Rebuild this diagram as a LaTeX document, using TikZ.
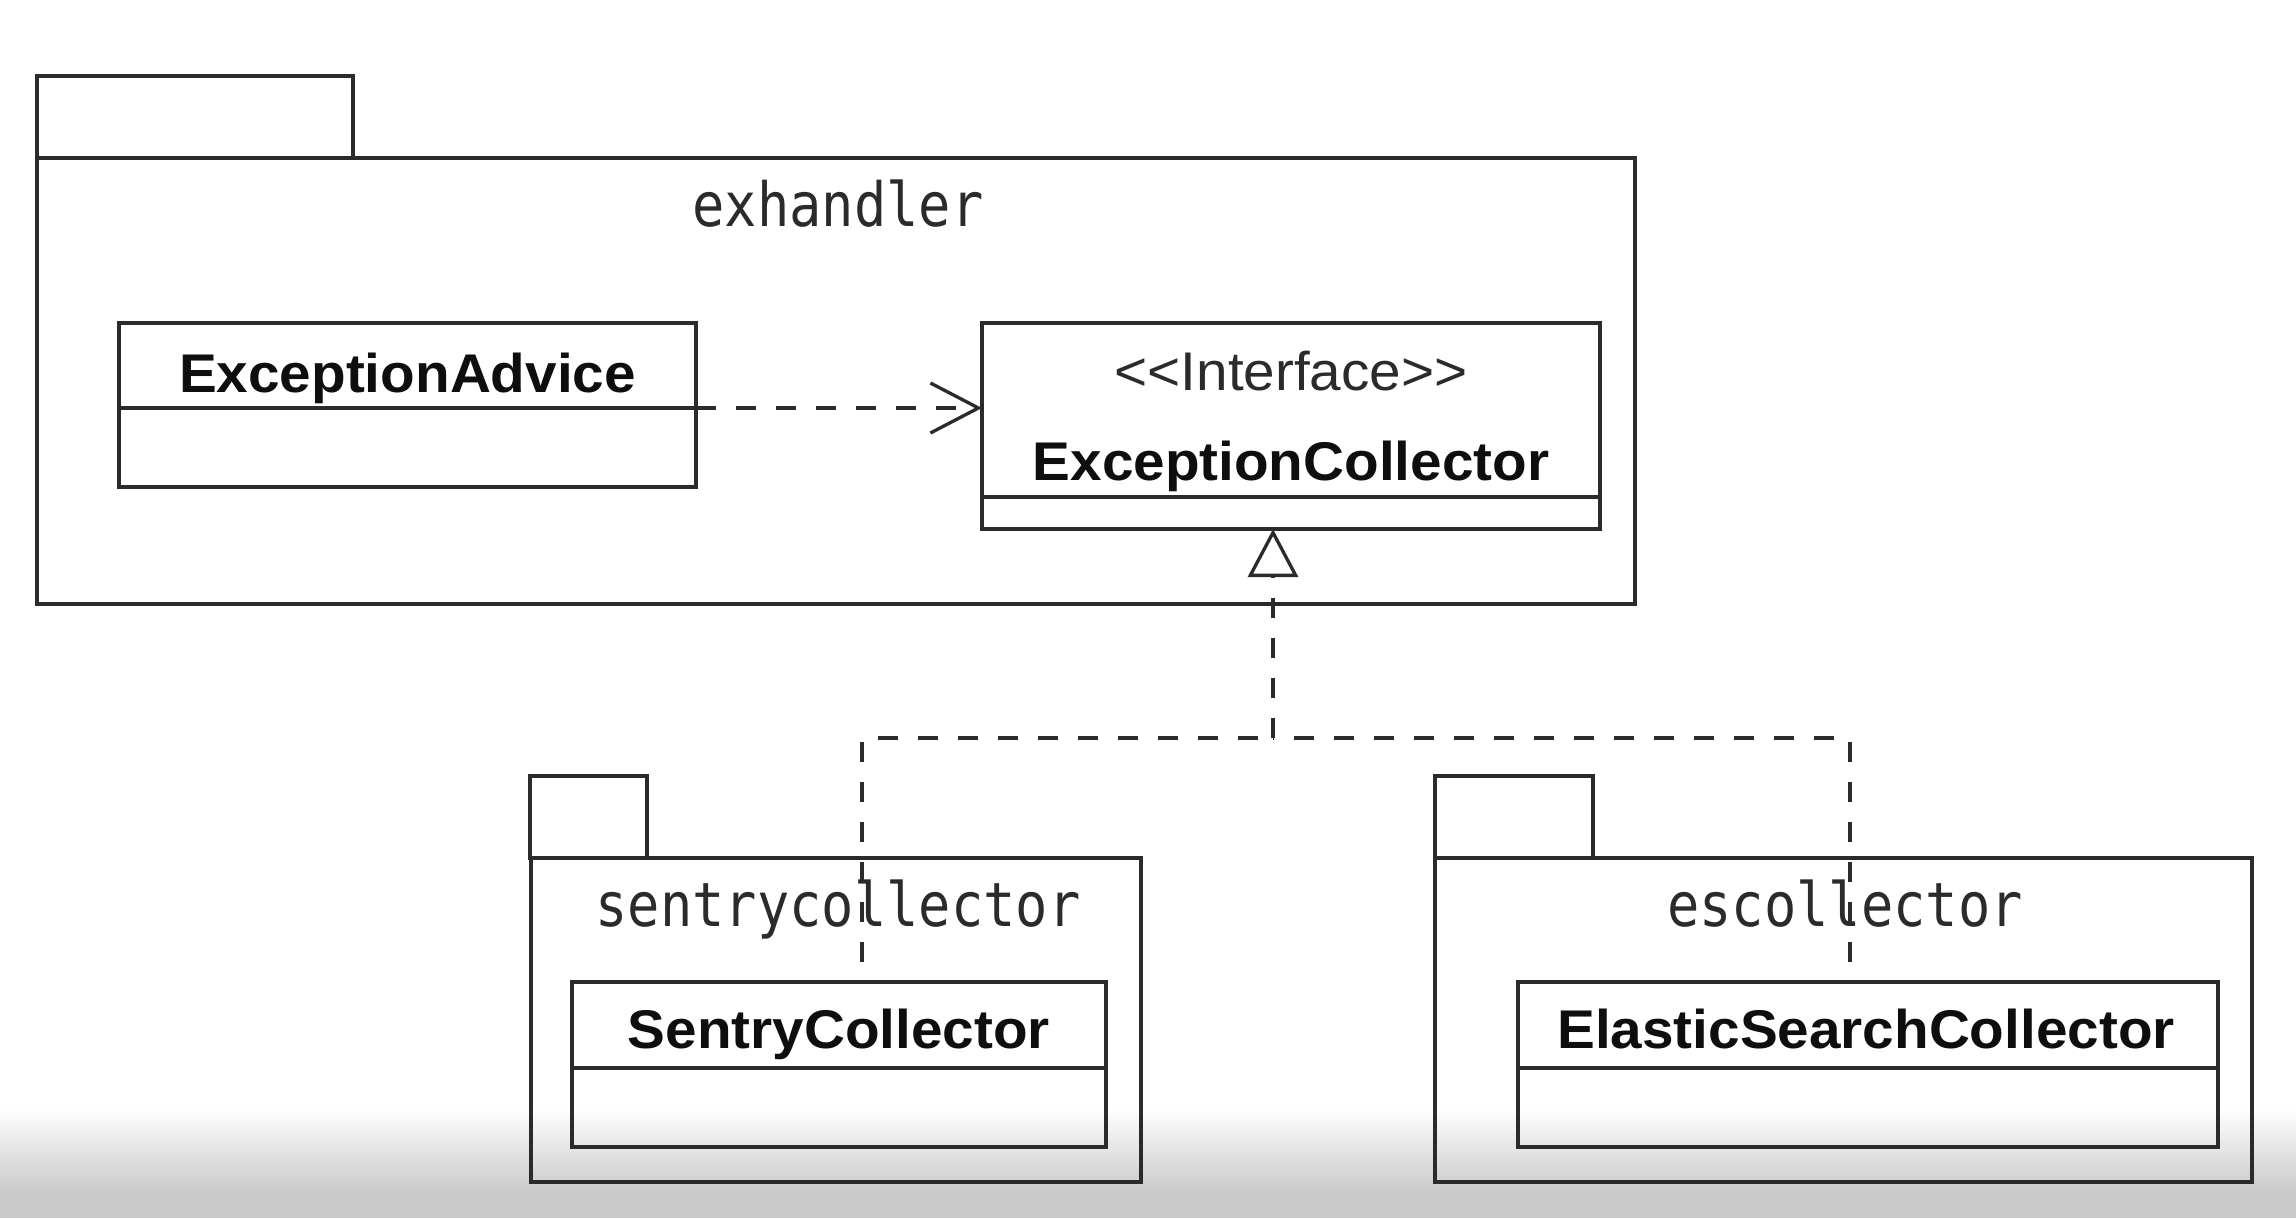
\documentclass[tikz,border=0pt]{standalone}
\usepackage{fontspec}
\setmainfont{Liberation Sans}
\newfontfamily\pkgfont[FakeStretch=0.88]{DejaVu Sans Mono}
\newfontfamily\clsfont[FakeStretch=1.04]{Liberation Sans}
\usetikzlibrary{arrows.meta,calc}
\definecolor{ln}{HTML}{2B2B2B}
\definecolor{txt}{HTML}{0E0E0E}
\tikzset{
  frame/.style={draw=ln, line width=3.3pt, inner sep=0pt, outer sep=0pt},
  pkgtxt/.style={font=\pkgfont\fontsize{61}{72}\selectfont, text=ln, inner sep=0pt, anchor=base},
  clsname/.style={font=\clsfont\bfseries\fontsize{54.5}{65}\selectfont, text=txt, inner sep=0pt, anchor=base},
  stereo/.style={font=\clsfont\fontsize{54.5}{65}\selectfont, text=ln, inner sep=0pt, anchor=base},
  depline/.style={draw=ln, line width=3.3pt, dash pattern=on 20pt off 20pt},
}
\begin{document}
\begin{tikzpicture}[x=1pt,y=-1pt]
\useasboundingbox (0,0) rectangle (2296,1218);
\fill[white] (0,0) rectangle (2296,1218);
% screenshot fade at the bottom
\shade[top color=white, bottom color=black!21] (0,1108) rectangle (2296,1192);
\fill[black!21] (0,1191) rectangle (2296,1218);

% package exhandler
\node[frame, minimum width=316pt, minimum height=82pt] (extab) at (195,117) {};
\node[frame, minimum width=1598pt, minimum height=446pt] (exbody) at (836,381) {};
\node[pkgtxt] (exlbl) at (838,226) {exhandler};

% ExceptionAdvice
\node[frame, minimum width=577pt, minimum height=164pt] (adv) at (407.5,405) {};
\coordinate (advsplit) at (0,408);
\draw[frame] (adv.west |- advsplit) -- (adv.east |- advsplit);
\node[clsname] (advname) at (407.5,392) {ExceptionAdvice};

% ExceptionCollector
\node[frame, minimum width=618pt, minimum height=206pt] (ec) at (1291,426) {};
\coordinate (ecsplit) at (0,497);
\draw[frame] (ec.west |- ecsplit) -- (ec.east |- ecsplit);
\node[stereo] (ecstereo) at (1291,390) {<{}<Interface>{}>};
\node[clsname] (ecname) at (1291,480) {ExceptionCollector};

% package sentrycollector
\node[frame, minimum width=117pt, minimum height=82pt] (sctab) at (588.5,817) {};
\node[frame, minimum width=610pt, minimum height=324pt] (scbody) at (836,1020) {};
\node[pkgtxt] (sclbl) at (838,926) {sentrycollector};

% SentryCollector
\node[frame, minimum width=534pt, minimum height=165pt] (sc) at (839,1064.5) {};
\coordinate (scsplit) at (0,1068);
\draw[frame] (sc.west |- scsplit) -- (sc.east |- scsplit);
\node[clsname] (scname) at (839,1048) {SentryCollector};

% package escollector
\node[frame, minimum width=158pt, minimum height=82pt] (estab) at (1514,817) {};
\node[frame, minimum width=817pt, minimum height=324pt] (esbody) at (1843.5,1020) {};
\node[pkgtxt] (eslbl) at (1845,926) {escollector};

% ElasticSearchCollector
\node[frame, minimum width=700pt, minimum height=165pt] (es) at (1868,1064.5) {};
\coordinate (essplit) at (0,1068);
\draw[frame] (es.west |- essplit) -- (es.east |- essplit);
\node[clsname] (esname) at (1866,1048) {ElasticSearchCollector};

% dependency
\draw[depline, -{Straight Barb[length=48pt, width=50pt, line width=3.3pt]}]
  (adv.east |- advsplit) -- (ec.west |- advsplit);

% realization
\coordinate (jn) at (1273,738);
\coordinate (scend) at (862,962);
\coordinate (esend) at (1850,962);
\draw[depline] (scend) -- (scend |- jn) -- (jn);
\draw[depline] (esend) -- (esend |- jn) -- (jn);
\draw[depline, -{Triangle[open, length=48pt, width=50pt, line width=3.3pt]}]
  (jn) -- (jn |- ec.south);
\end{tikzpicture}
\end{document}
